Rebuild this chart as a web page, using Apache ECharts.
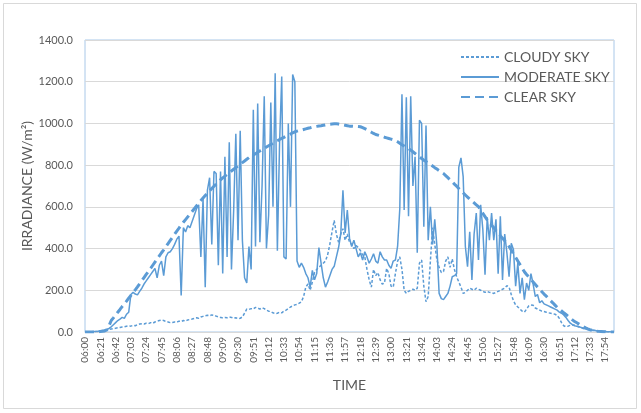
<!DOCTYPE html>
<html>
<head>
<meta charset="utf-8">
<script src="https://cdn.jsdelivr.net/npm/echarts@6/dist/echarts.min.js"></script>
<style>
html,body{margin:0;padding:0;background:#fff;}
#chart{width:641px;height:413px;}
</style>
</head>
<body>
<div id="chart"></div>
<script>
// Categories: 06:00 .. 18:06 every 3 minutes
const categories = [];
for (let m = 6 * 60; m <= 18 * 60 + 6; m += 3) {
  const h = Math.floor(m / 60), mm = m % 60;
  categories.push((h < 10 ? '0' : '') + h + ':' + (mm < 10 ? '0' : '') + mm);
}

const yTicks = [0, 200, 400, 600, 800, 1000, 1200, 1400];

const cloudySky = [
  0,0,0,1,1,2,3,4,6,8,
  10,12,14,16,18,20,22,24,25,28,
  30,28,32,30,35,38,40,38,42,40,
  45,42,48,52,55,57,55,50,48,45,
  46,48,47,52,50,55,52,58,60,62,
  65,68,66,72,75,78,80,78,82,80,
  76,72,70,68,70,68,72,70,66,68,
  64,66,72,90,110,108,112,110,118,115,
  110,116,112,105,100,98,92,88,90,95,
  92,100,105,112,120,125,130,132,138,145,
  170,215,230,200,240,285,300,310,320,330,
  340,370,420,480,535,470,430,470,495,440,
  470,430,420,400,415,405,390,370,360,300,
  250,215,300,270,285,250,230,235,305,280,
  220,215,280,340,360,300,200,185,195,200,
  205,200,210,330,345,220,145,170,340,500,
  420,345,310,285,290,340,360,310,350,300,
  265,240,215,185,190,200,210,205,200,210,
  205,200,195,190,195,190,188,185,190,195,
  200,205,210,222,215,180,150,130,120,110,
  100,95,110,125,130,128,115,110,105,100,
  98,95,92,90,88,85,80,65,45,30,
  25,28,32,34,32,28,24,20,17,14,
  12,10,9,7,6,5,4,3,2,1,
  1,0,0
];

const moderateSky = [
  0,0,1,1,2,3,4,6,8,10,
  13,17,25,35,45,55,62,70,65,85,
  95,180,190,182,178,195,210,230,245,260,
  275,290,305,260,320,340,270,360,380,385,
  400,420,445,460,175,500,480,510,500,530,
  560,590,610,360,640,215,680,740,420,770,
  760,320,770,280,840,360,910,300,580,950,
  440,965,440,260,235,410,300,1065,410,1095,
  430,700,1130,400,560,1100,600,1240,390,900,
  1225,360,350,1000,600,1235,1200,340,310,330,
  310,280,260,215,295,250,280,405,330,260,
  215,240,270,300,315,360,405,470,680,475,
  585,450,410,440,400,360,380,345,385,360,
  330,350,375,340,330,385,360,345,345,320,
  305,340,345,410,590,1140,585,1125,555,1130,
  700,840,380,1015,1000,505,990,440,600,420,
  540,410,185,160,155,170,185,220,265,270,
  280,790,835,745,410,313,480,250,470,570,
  345,610,490,275,550,440,570,440,540,280,
  555,250,470,380,265,425,395,220,330,185,
  260,155,235,200,280,230,170,180,140,150,
  135,130,125,120,115,110,105,95,90,82,
  70,55,42,35,30,28,25,22,18,15,
  13,11,9,8,6,5,4,3,2,1,
  1,0,0
];

const clearSky = [
  0,0,0,0,0,1,1,2,3,5,
  10,30,55,68,82,95,108,122,135,148,
  162,175,190,202,216,231,246,261,276,290,
  305,320,335,350,365,380,394,409,424,439,
  454,469,484,498,513,526,539,552,565,578,
  591,604,617,630,642,654,665,677,688,699,
  709,720,730,739,747,756,764,772,780,788,
  796,804,812,820,828,836,843,849,855,862,
  868,874,880,887,893,899,906,912,917,923,
  928,933,939,944,949,955,960,963,966,968,
  971,974,977,979,982,984,986,988,989,991,
  993,995,996,997,998,998,997,995,993,991,
  989,987,987,986,986,985,984,980,975,970,
  964,958,952,947,944,941,938,934,931,928,
  925,922,918,912,905,898,892,886,879,872,
  864,856,848,840,832,824,817,810,803,796,
  788,781,774,767,760,750,740,730,720,709,
  699,688,677,667,657,647,637,628,619,610,
  601,585,569,553,537,525,512,500,487,475,
  462,450,437,424,410,393,375,358,340,323,
  306,289,276,264,252,240,228,216,205,193,
  182,172,161,150,140,129,118,110,101,92,
  84,75,67,58,50,44,38,32,26,20,
  15,11,8,6,4,3,2,1,1,0,
  0,0,0
];

const COLOR = '#5b9bd5';
const TXT = '#595959';
const FONT = 'Lato, "Open Sans", sans-serif';

const chart = echarts.init(document.getElementById('chart'), null, {renderer: 'canvas'});
chart.setOption({
  animation: false,
  backgroundColor: '#fff',
  textStyle: {fontFamily: FONT, color: TXT},
  graphic: [{
    type: 'rect',
    shape: {x: 3.5, y: 3.5, width: 633, height: 405},
    style: {fill: 'none', stroke: '#d9d9d9', lineWidth: 1},
    silent: true
  }],
  grid: {
    left: 85, right: 27, top: 40, bottom: 81,
    show: true, borderColor: '#a9c8e8', borderWidth: 1, backgroundColor: 'transparent'
  },
  legend: {
    orient: 'vertical',
    left: 455, top: 45,
    itemWidth: 38, itemHeight: 14, itemGap: 6,
    itemStyle: {opacity: 0, borderWidth: 0},
    textStyle: {fontFamily: FONT, fontSize: 14, color: TXT},
    data: ['CLOUDY SKY', 'MODERATE SKY', 'CLEAR SKY']
  },
  xAxis: {
    type: 'category',
    data: categories,
    boundaryGap: false,
    name: 'TIME',
    nameLocation: 'middle',
    nameGap: 46,
    nameMoveOverlap: false,
    nameTextStyle: {fontFamily: FONT, fontSize: 14, color: TXT},
    axisLine: {lineStyle: {color: '#d9d9d9'}},
    axisTick: {show: false},
    axisLabel: {
      interval: 6, rotate: 90, margin: 5,
      fontFamily: FONT, fontSize: 10, color: TXT
    },
    splitLine: {show: false}
  },
  yAxis: {
    type: 'value',
    min: 0, max: 1400, interval: 200,
    name: 'IRRADIANCE (W/m²)',
    nameLocation: 'middle',
    nameGap: 51,
    nameMoveOverlap: false,
    nameTextStyle: {fontFamily: FONT, fontSize: 14, color: TXT},
    axisLine: {show: false},
    axisTick: {show: false},
    axisLabel: {
      margin: 12, fontFamily: FONT, fontSize: 11, color: TXT,
      customValues: yTicks,
      formatter: v => v.toFixed(1)
    },
    splitLine: {lineStyle: {color: '#d9d9d9', width: 1}}
  },
  series: [
    {
      name: 'CLOUDY SKY', type: 'line', data: cloudySky,
      symbol: 'none', showSymbol: false,
      itemStyle: {color: COLOR},
      lineStyle: {color: COLOR, width: 1.5, type: [3, 2]},
      z: 3
    },
    {
      name: 'MODERATE SKY', type: 'line', data: moderateSky,
      symbol: 'none', showSymbol: false,
      itemStyle: {color: COLOR},
      lineStyle: {color: COLOR, width: 1.5, type: 'solid'},
      z: 2
    },
    {
      name: 'CLEAR SKY', type: 'line', data: clearSky,
      symbol: 'none', showSymbol: false, smooth: false,
      itemStyle: {color: COLOR},
      lineStyle: {color: COLOR, width: 3, type: [9, 5]},
      z: 4
    }
  ]
});
</script>
</body>
</html>
